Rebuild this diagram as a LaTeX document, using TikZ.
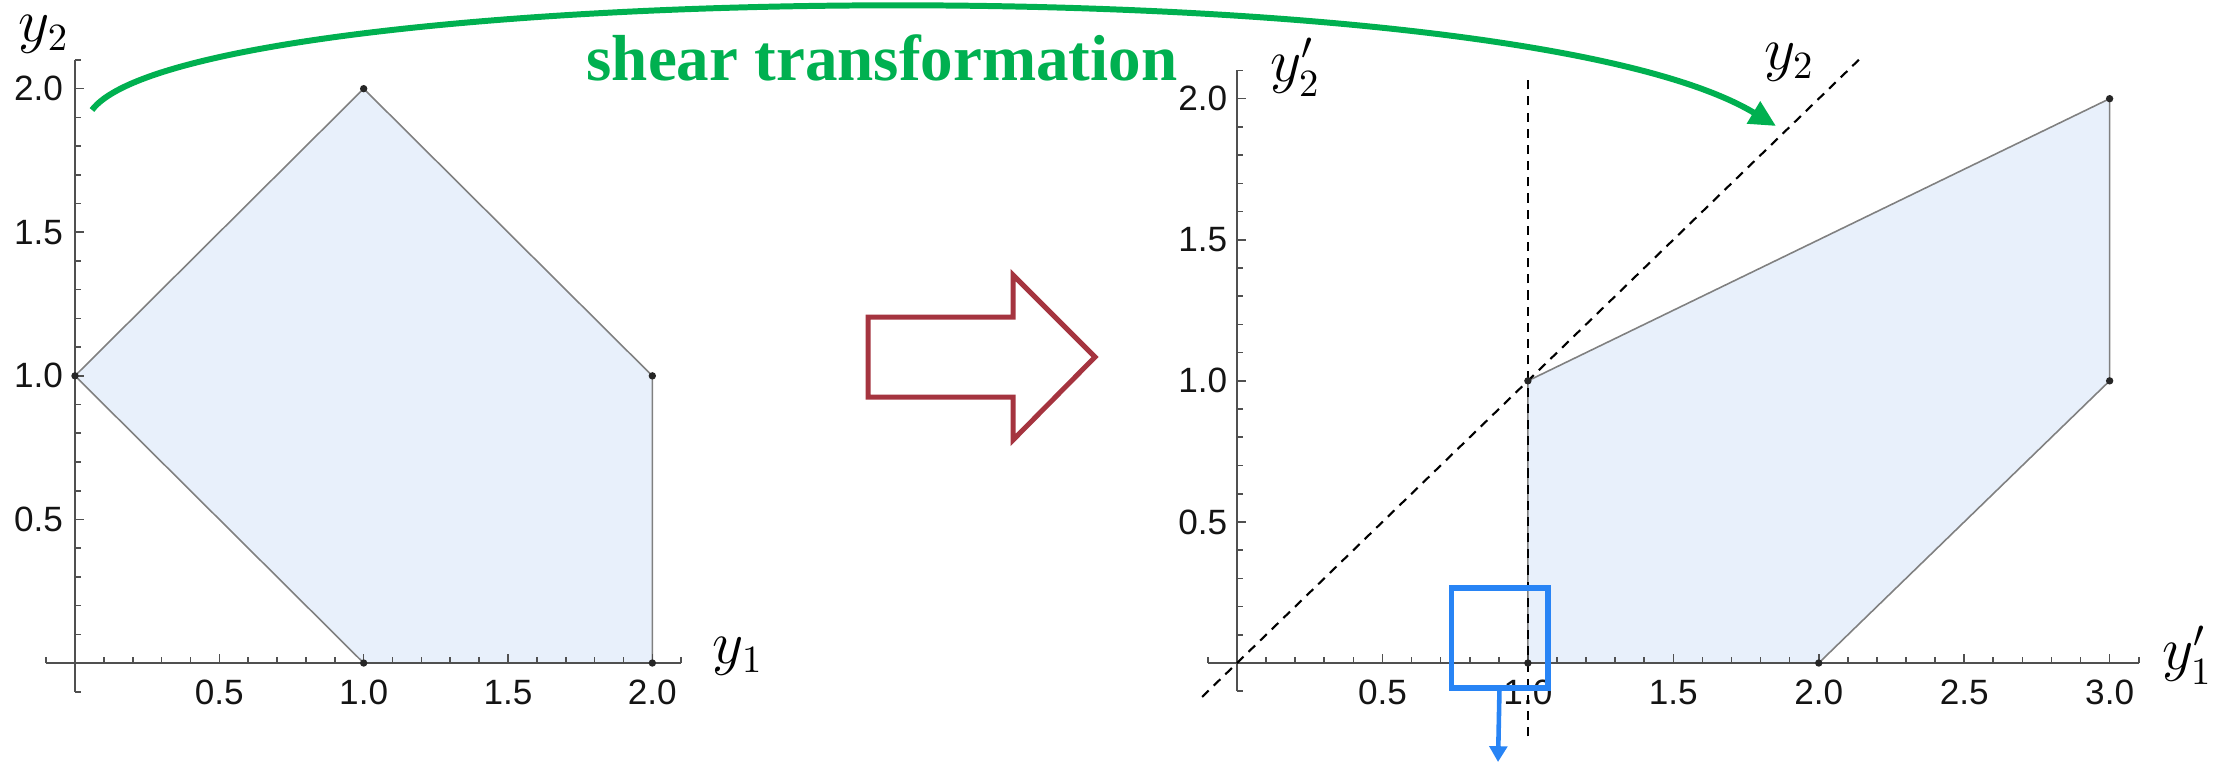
\documentclass[tikz,border=0pt]{standalone}
\usepackage{fontspec}
\setmainfont{Liberation Serif}
\newfontfamily\tickfont{Liberation Sans}
\usetikzlibrary{arrows.meta}
\definecolor{polyfill}{RGB}{232,240,251}
\definecolor{polyedge}{RGB}{128,128,128}
\definecolor{axisgray}{RGB}{80,80,80}
\definecolor{tickcol}{RGB}{20,20,20}
\definecolor{arcgreen}{RGB}{0,176,80}
\definecolor{arrowred}{RGB}{165,52,63}
\definecolor{boxblue}{RGB}{40,132,245}
\tikzset{
  region/.style={fill=polyfill, draw=polyedge, line width=0.45pt, line join=round},
  axisline/.style={draw=axisgray, line width=0.45pt},
  ticklab/.style={text=tickcol, font=\tickfont\fontsize{10}{12}\selectfont, inner sep=0pt},
  axlab/.style={font=\fontsize{16}{18}\selectfont, inner sep=0pt},
  dashline/.style={draw=black, line width=0.6pt, dash pattern=on 2.6pt off 2pt},
  vdot/.style={fill=black!85},
  sheararc/.style={draw=arcgreen, line width=1.7pt, -{Triangle[length=7.5pt, width=7pt]}},
  blockarrow/.style={draw=arrowred, line width=1.42pt, line join=miter},
  zoomframe/.style={draw=boxblue, line width=1.7pt, inner sep=0pt, outer sep=0pt, minimum width=0.96cm, minimum height=1.0cm},
  zoomarrow/.style={draw=boxblue, line width=1.3pt, -{Triangle[length=4.5pt, width=5pt]}}
}
\begin{document}
\begin{tikzpicture}[x=0.01cm, y=-0.01cm]
\useasboundingbox (0,0) rectangle (2234,763);

% ---------- left plot ----------
\begin{scope}[shift={(75,663)}, x=2.885cm, y=2.87cm]
  \path[region] (0,1) -- (1,2) -- (2,1) -- (2,0) -- (1,0) -- cycle;
  \draw[axisline] (-0.1,0) -- (2.1,0);
  \draw[axisline] (0,-0.1) -- (0,2.1);
  \foreach \i in {-1,...,21} {
    \draw[axisline] (\i/10,0) -- ++(0pt,1.7pt);
    \draw[axisline] (0,\i/10) -- ++(1.7pt,0pt);
  }
  \foreach \i in {5,10,15,20} {
    \draw[axisline] (\i/10,0) -- ++(0pt,2.6pt);
    \draw[axisline] (0,\i/10) -- ++(2.6pt,0pt);
  }
  \foreach \v [count=\k] in {0.5,1.0,1.5,2.0} {
    \node[ticklab, yshift=-8.3pt] (lx\k) at (\v,0) {\v};
    \node[ticklab, anchor=east, xshift=-3.2pt] (ly\k) at (0,\v) {\v};
  }
  \foreach \p in {(0,1),(1,2),(2,1),(2,0),(1,0)} {
    \fill[vdot] \p circle[radius=1.05pt];
  }
\end{scope}
\node[axlab] (Ly2) at (44,34) {$y_2$};
\node[axlab] (Ly1) at (738,656) {$y_1$};

% ---------- block arrow ----------
\draw[blockarrow] (868,317) -- (1013,317) -- (1013,275) -- (1095,357)
  -- (1013,440) -- (1013,397) -- (868,397) -- cycle;

% ---------- right plot ----------
\begin{scope}[shift={(1237,663)}, x=2.907cm, y=2.82cm]
  \path[region] (1,0) -- (1,1) -- (3,2) -- (3,1) -- (2,0) -- cycle;
  \draw[axisline] (-0.1,0) -- (3.1,0);
  \draw[axisline] (0,-0.1) -- (0,2.1);
  \foreach \i in {-1,...,31} {
    \draw[axisline] (\i/10,0) -- ++(0pt,1.7pt);
  }
  \foreach \i in {-1,...,21} {
    \draw[axisline] (0,\i/10) -- ++(1.7pt,0pt);
  }
  \foreach \i in {5,10,15,20,25,30} {
    \draw[axisline] (\i/10,0) -- ++(0pt,2.6pt);
  }
  \foreach \i in {5,10,15,20} {
    \draw[axisline] (0,\i/10) -- ++(2.6pt,0pt);
  }
  \foreach \v [count=\k] in {0.5,1.0,1.5,2.0,2.5,3.0} {
    \node[ticklab, yshift=-8.3pt] (rx\k) at (\v,0) {\v};
  }
  \foreach \v [count=\k] in {0.5,1.0,1.5,2.0} {
    \node[ticklab, anchor=east, xshift=-2.6pt] (ry\k) at (0,\v) {\v};
  }
  \draw[dashline] (1,-0.26) -- (1,2.09);
  \draw[dashline] (-0.12,-0.12) -- (2.14,2.14);
  \foreach \p in {(1,0),(1,1),(3,2),(3,1),(2,0)} {
    \fill[vdot] \p circle[radius=1.05pt];
  }
\end{scope}
\node[axlab] (Ry2p) at (1295,67) {$y_2'$};
\node[axlab] (Ry2) at (1789,62) {$y_2$};
\node[axlab] (Ry1p) at (2187,655) {$y_1'$};

% ---------- zoom box ----------
\node[zoomframe] (zoombox) at (1499.5,638) {};
\coordinate (zoomtip) at (1498,762);
\draw[zoomarrow] (zoombox.south) -- (zoomtip);

% ---------- shear arc ----------
\node[text=arcgreen, font=\fontsize{18.5}{21}\selectfont\bfseries, inner sep=0pt, anchor=base] (title) at (882,80) {shear transformation};
\coordinate (arcstart) at (92,110);
\coordinate (arcend) at (1776,126);
\draw[sheararc] (arcstart) .. controls (190,-20) and (1500,-40) .. (arcend);
\end{tikzpicture}
\end{document}
